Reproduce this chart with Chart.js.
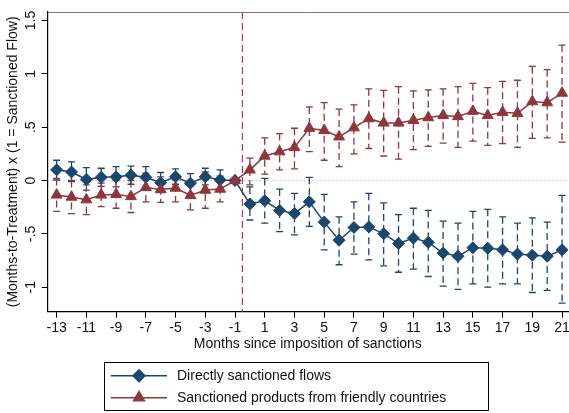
<!DOCTYPE html>
<html>
<head>
<meta charset="utf-8">
<script src="https://cdn.jsdelivr.net/npm/chart.js@4/dist/chart.umd.min.js"></script>
<style>
  body { margin: 0; background: #fff; }
  canvas { display: block; }
</style>
</head>
<body>
<canvas id="eventChart" width="569" height="413"></canvas>
<script>
// months relative to the sanctions (x axis)
const months = [-13, -12, -11, -10, -9, -8, -7, -6, -5, -4, -3, -2, -1,
  0, 1, 2, 3, 4, 5, 6, 7, 8, 9, 10, 11, 12, 13, 14, 15, 16, 17, 18, 19, 20, 21];

// Directly sanctioned flows
const directEst = [0.10, 0.08, 0.01, 0.03, 0.035, 0.05, 0.03, -0.02, 0.035, -0.025, 0.035, 0.005, 0,
  -0.22, -0.19, -0.28, -0.31, -0.20, -0.39, -0.56, -0.44, -0.435, -0.50, -0.59, -0.54, -0.58,
  -0.68, -0.71, -0.63, -0.635, -0.65, -0.69, -0.70, -0.71, -0.65];
const directLo = [0.005, -0.01, -0.09, -0.055, -0.06, -0.035, -0.07, -0.11, -0.035, -0.12, -0.04, -0.09, null,
  -0.37, -0.40, -0.48, -0.51, -0.43, -0.65, -0.79, -0.69, -0.745, -0.80, -0.86, -0.83, -0.90,
  -0.99, -1.02, -0.97, -1.00, -0.97, -0.97, -1.05, -1.03, -1.15];
const directHi = [0.19, 0.175, 0.12, 0.115, 0.13, 0.135, 0.13, 0.075, 0.11, 0.065, 0.115, 0.10, null,
  -0.06, 0.02, -0.08, -0.12, 0.03, -0.13, -0.34, -0.20, -0.12, -0.21, -0.32, -0.26, -0.28,
  -0.38, -0.40, -0.29, -0.27, -0.34, -0.40, -0.35, -0.39, -0.14];

// Sanctioned products from friendly countries
const friendEst = [-0.135, -0.155, -0.18, -0.135, -0.13, -0.15, -0.065, -0.085, -0.07, -0.14, -0.09, -0.08, 0,
  0.10, 0.23, 0.27, 0.31, 0.49, 0.47, 0.41, 0.495, 0.58, 0.54, 0.54, 0.565, 0.59,
  0.61, 0.60, 0.65, 0.61, 0.64, 0.63, 0.74, 0.73, 0.82];
const friendLo = [-0.29, -0.31, -0.32, -0.245, -0.26, -0.30, -0.20, -0.205, -0.20, -0.275, -0.26, -0.20, null,
  -0.04, 0.06, 0.10, 0.11, 0.27, 0.19, 0.13, 0.25, 0.30, 0.23, 0.20, 0.29, 0.32,
  0.35, 0.31, 0.37, 0.33, 0.345, 0.31, 0.395, 0.40, 0.36];
const friendHi = [0.02, 0.0, -0.04, -0.025, 0.0, 0.0, 0.07, 0.035, 0.06, -0.005, 0.08, 0.04, null,
  0.21, 0.40, 0.44, 0.49, 0.69, 0.73, 0.67, 0.71, 0.86, 0.845, 0.88, 0.84, 0.85,
  0.86, 0.88, 0.91, 0.87, 0.93, 0.94, 1.07, 1.04, 1.27];

const xTicks = [-13, -11, -9, -7, -5, -3, -1, 1, 3, 5, 7, 9, 11, 13, 15, 17, 19, 21];
const yTicks = [-1, -0.5, 0, 0.5, 1, 1.5];
const treatLine = -0.5;

const BLUE = '#1a476f';
const RED = '#90353b';
const FONT = "'Liberation Sans', Arial, sans-serif";

function toPoints(vals) {
  return months.map((m, i) => ({x: m, y: vals[i]}));
}

// dashed CI bars with caps + the zero line and sanction line
const errorBars = {
  id: 'errorBars',
  beforeDatasetsDraw(chart) {
    const {ctx, chartArea, scales: {x, y}} = chart;
    ctx.save();
    // dotted zero line
    ctx.strokeStyle = '#a0a0a0';
    ctx.lineWidth = 1;
    ctx.setLineDash([1, 3]);
    ctx.beginPath();
    ctx.moveTo(chartArea.left, y.getPixelForValue(0));
    ctx.lineTo(chartArea.right, y.getPixelForValue(0));
    ctx.stroke();
    // treatment line
    ctx.strokeStyle = '#b03c4a';
    ctx.lineWidth = 1.2;
    ctx.setLineDash([7, 4]);
    let tx = x.getPixelForValue(treatLine);
    ctx.beginPath();
    ctx.moveTo(tx, chartArea.top);
    ctx.lineTo(tx, chartArea.bottom);
    ctx.stroke();

    chart.data.datasets.forEach(ds => {
      ctx.strokeStyle = ds.borderColor;
      ctx.lineWidth = 1.3;
      ds.ciLo.forEach((lo, i) => {
        let hi = ds.ciHi[i];
        if (lo == null || hi == null) return;
        let px = x.getPixelForValue(months[i]);
        let pLo = y.getPixelForValue(lo);
        let pHi = y.getPixelForValue(hi);
        ctx.setLineDash([7, 4]);
        ctx.beginPath();
        ctx.moveTo(px, pHi);
        ctx.lineTo(px, pLo);
        ctx.stroke();
        ctx.setLineDash([]);
        ctx.beginPath();
        ctx.moveTo(px - 3.5, pHi); ctx.lineTo(px + 3.5, pHi);
        ctx.moveTo(px - 3.5, pLo); ctx.lineTo(px + 3.5, pLo);
        ctx.stroke();
      });
    });
    ctx.restore();
  },
  afterDraw(chart) {
    const {ctx, chartArea} = chart;
    ctx.save();
    // top frame line
    ctx.strokeStyle = '#777';
    ctx.lineWidth = 1;
    ctx.beginPath();
    ctx.moveTo(chartArea.left, chartArea.top + 0.5);
    ctx.lineTo(chart.width, chartArea.top + 0.5);
    ctx.stroke();

    // legend box
    ctx.strokeStyle = '#000';
    ctx.strokeRect(104.5, 362.5, 384, 48);
    ctx.font = '14px ' + FONT;
    ctx.textBaseline = 'middle';
    ctx.textAlign = 'left';
    chart.data.datasets.forEach((ds, i) => {
      let ly = 375.7 + i * 22;
      ctx.strokeStyle = ds.borderColor;
      ctx.fillStyle = ds.borderColor;
      ctx.lineWidth = 1.5;
      ctx.beginPath();
      ctx.moveTo(110.7, ly);
      ctx.lineTo(167, ly);
      ctx.stroke();
      Chart.helpers.drawPoint(ctx, {pointStyle: ds.pointStyle, radius: ds.pointRadius, rotation: 0, borderWidth: 1}, 139, ly);
      ctx.fillStyle = '#111';
      ctx.fillText(ds.label, 177, ly + 0.5);
    });
    ctx.restore();
  }
};

const ctx = document.getElementById('eventChart').getContext('2d');
const eventChart = new Chart(ctx, {
  type: 'line',
  data: {
    datasets: [
      {
        label: 'Directly sanctioned flows',
        data: toPoints(directEst),
        ciLo: directLo,
        ciHi: directHi,
        borderColor: BLUE,
        backgroundColor: BLUE,
        borderWidth: 1.5,
        pointStyle: 'rectRot',
        pointRadius: 6,
        pointBorderWidth: 1,
        order: 2
      },
      {
        label: 'Sanctioned products from friendly countries',
        data: toPoints(friendEst),
        ciLo: friendLo,
        ciHi: friendHi,
        borderColor: RED,
        backgroundColor: RED,
        borderWidth: 1.5,
        pointStyle: 'triangle',
        pointRadius: 6.3,
        pointBorderWidth: 1,
        order: 1
      }
    ]
  },
  options: {
    responsive: false,
    animation: false,
    devicePixelRatio: 1,
    layout: {
      autoPadding: false,
      padding: {left: 5, top: 12, right: 1, bottom: 60.6}
    },
    plugins: {
      legend: {display: false},
      tooltip: {enabled: false}
    },
    scales: {
      x: {
        type: 'linear',
        min: -13.6,
        max: 21.4,
        afterBuildTicks: scale => { scale.ticks = xTicks.map(v => ({value: v})); },
        afterFit: scale => { scale.height = 40.7; scale.paddingLeft = 0; scale.paddingRight = 0; },
        grid: {display: true, drawOnChartArea: false, drawTicks: true, tickLength: 6, color: '#000'},
        border: {display: true, color: '#000', width: 1.2},
        ticks: {
          color: '#111',
          font: {family: FONT, size: 14},
          padding: 2,
          maxRotation: 0,
          autoSkip: false
        },
        title: {
          display: true,
          text: 'Months since imposition of sanctions',
          color: '#111',
          font: {family: FONT, size: 14},
          padding: 0
        }
      },
      y: {
        type: 'linear',
        min: -1.23,
        max: 1.58,
        afterBuildTicks: scale => { scale.ticks = yTicks.map(v => ({value: v})); },
        afterFit: scale => { scale.width = 42.7; scale.paddingTop = 0; scale.paddingBottom = 0; },
        grid: {display: true, drawOnChartArea: false, drawTicks: true, tickLength: 6, color: '#000'},
        border: {display: true, color: '#000', width: 1.2},
        ticks: {
          color: '#111',
          font: {family: FONT, size: 14},
          padding: 1,
          minRotation: 90,
          maxRotation: 90,
          crossAlign: 'center',
          autoSkip: false,
          callback: v => String(v).replace(/^(-?)0\./, '$1.')
        },
        title: {
          display: true,
          text: '(Months-to-Treatment) x (1 = Sanctioned Flow)',
          color: '#111',
          font: {family: FONT, size: 14},
          padding: 0
        }
      }
    }
  },
  plugins: [errorBars]
});
</script>
</body>
</html>
